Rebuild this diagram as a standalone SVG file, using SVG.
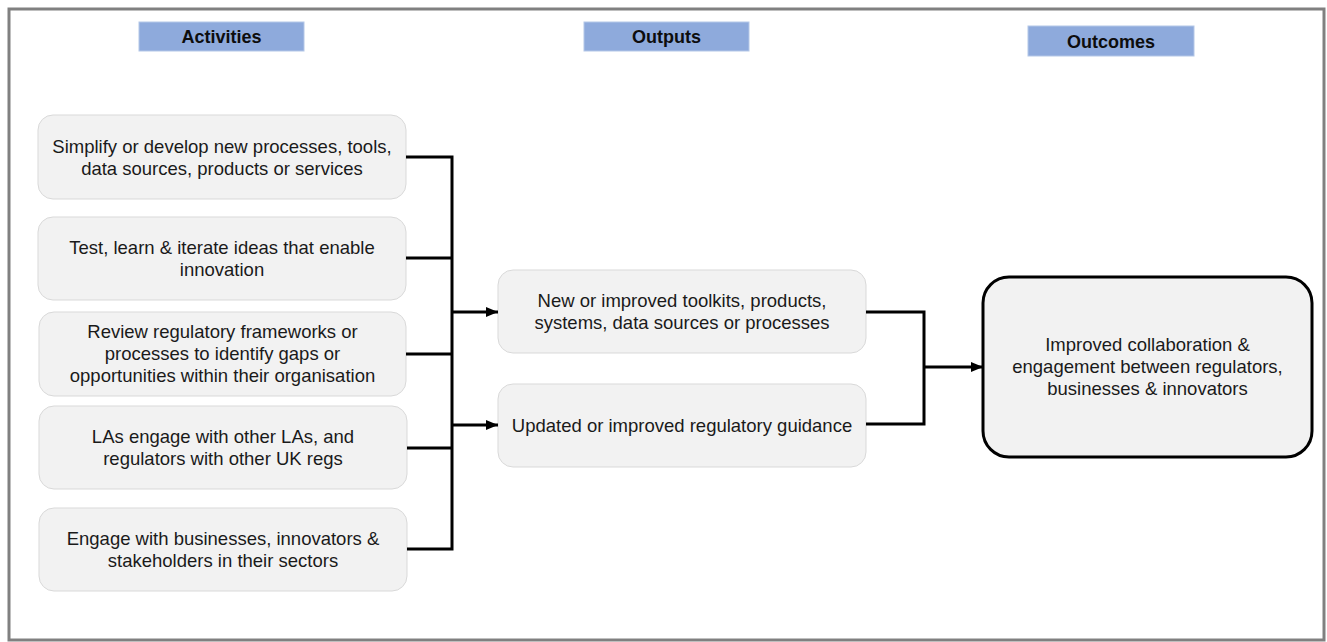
<svg xmlns="http://www.w3.org/2000/svg" width="1327" height="642" viewBox="0 0 1327 642">
  <style>
    .frame { fill: #ffffff; stroke: #808080; stroke-width: 3; }
    .head rect { fill: #8eaadc; stroke: #b4c7e7; stroke-width: 1; }
    .head text { font-family: "Liberation Sans", Arial, sans-serif; font-size: 18px; font-weight: bold; fill: #0d0d0d; text-anchor: middle; }
    .box rect { fill: #f2f2f2; stroke: #d9d9d9; stroke-width: 1; }
    .box text, .outcome text { font-family: "Liberation Sans", Arial, sans-serif; font-size: 18.5px; fill: #1a1a1a; text-anchor: middle; }
    .outcome rect { fill: #f2f2f2; stroke: #000000; stroke-width: 3; }
    .conn path { fill: none; stroke: #000000; stroke-width: 3; }
  </style>
  <defs>
    <marker id="arrow" markerUnits="userSpaceOnUse" markerWidth="12" markerHeight="10" refX="12" refY="5" orient="auto">
      <path d="M0,0 L12,5 L0,10 Z" fill="#000000"/>
    </marker>
  </defs>

  <!-- outer frame -->
  <rect class="frame" x="9" y="9" width="1315" height="631"/>

  <!-- column headers -->
  <g id="head-activities" class="head">
    <rect x="139" y="22" width="165" height="29"/>
    <text x="221.5" y="43">Activities</text>
  </g>
  <g id="head-outputs" class="head">
    <rect x="584" y="22" width="165" height="29"/>
    <text x="666.5" y="43">Outputs</text>
  </g>
  <g id="head-outcomes" class="head">
    <rect x="1028" y="26" width="166" height="30"/>
    <text x="1111" y="48">Outcomes</text>
  </g>

  <!-- activities -->
  <g id="act-1" class="box">
    <rect x="38" y="115" width="368" height="84" rx="15"/>
    <text x="222" y="153">Simplify or develop new processes, tools,</text>
    <text x="222" y="175">data sources, products or services</text>
  </g>
  <g id="act-2" class="box">
    <rect x="38" y="217" width="368" height="83" rx="15"/>
    <text x="222" y="254">Test, learn &amp; iterate ideas that enable</text>
    <text x="222" y="276">innovation</text>
  </g>
  <g id="act-3" class="box">
    <rect x="39" y="312" width="367" height="84" rx="15"/>
    <text x="222.5" y="338">Review regulatory frameworks or</text>
    <text x="222.5" y="360">processes to identify gaps or</text>
    <text x="222.5" y="382">opportunities within their organisation</text>
  </g>
  <g id="act-4" class="box">
    <rect x="39" y="406" width="368" height="83" rx="15"/>
    <text x="223" y="443">LAs engage with other LAs, and</text>
    <text x="223" y="465">regulators with other UK regs</text>
  </g>
  <g id="act-5" class="box">
    <rect x="39" y="508" width="368" height="83" rx="15"/>
    <text x="223" y="545">Engage with businesses, innovators &amp;</text>
    <text x="223" y="567">stakeholders in their sectors</text>
  </g>

  <!-- outputs -->
  <g id="out-1" class="box">
    <rect x="498" y="270" width="368" height="83" rx="15"/>
    <text x="682" y="307">New or improved toolkits, products,</text>
    <text x="682" y="329">systems, data sources or processes</text>
  </g>
  <g id="out-2" class="box">
    <rect x="498" y="384" width="368" height="83" rx="15"/>
    <text x="682" y="432">Updated or improved regulatory guidance</text>
  </g>

  <!-- outcome -->
  <g id="outcome" class="outcome">
    <rect x="983" y="277" width="329" height="180" rx="26"/>
    <text x="1147.5" y="351">Improved collaboration &amp;</text>
    <text x="1147.5" y="373">engagement between regulators,</text>
    <text x="1147.5" y="395">businesses &amp; innovators</text>
  </g>

  <!-- connectors -->
  <g id="connectors" class="conn">
    <path d="M406,157 H452 M406,258 H452 M406,354 H452 M407,448 H452 M407,549 H452 M452,155.5 V550.5"/>
    <path d="M452,312 H498" marker-end="url(#arrow)"/>
    <path d="M452,425 H498" marker-end="url(#arrow)"/>
    <path d="M866,312 H924 V424 H866"/>
    <path d="M924,367 H983" marker-end="url(#arrow)"/>
  </g>
</svg>
